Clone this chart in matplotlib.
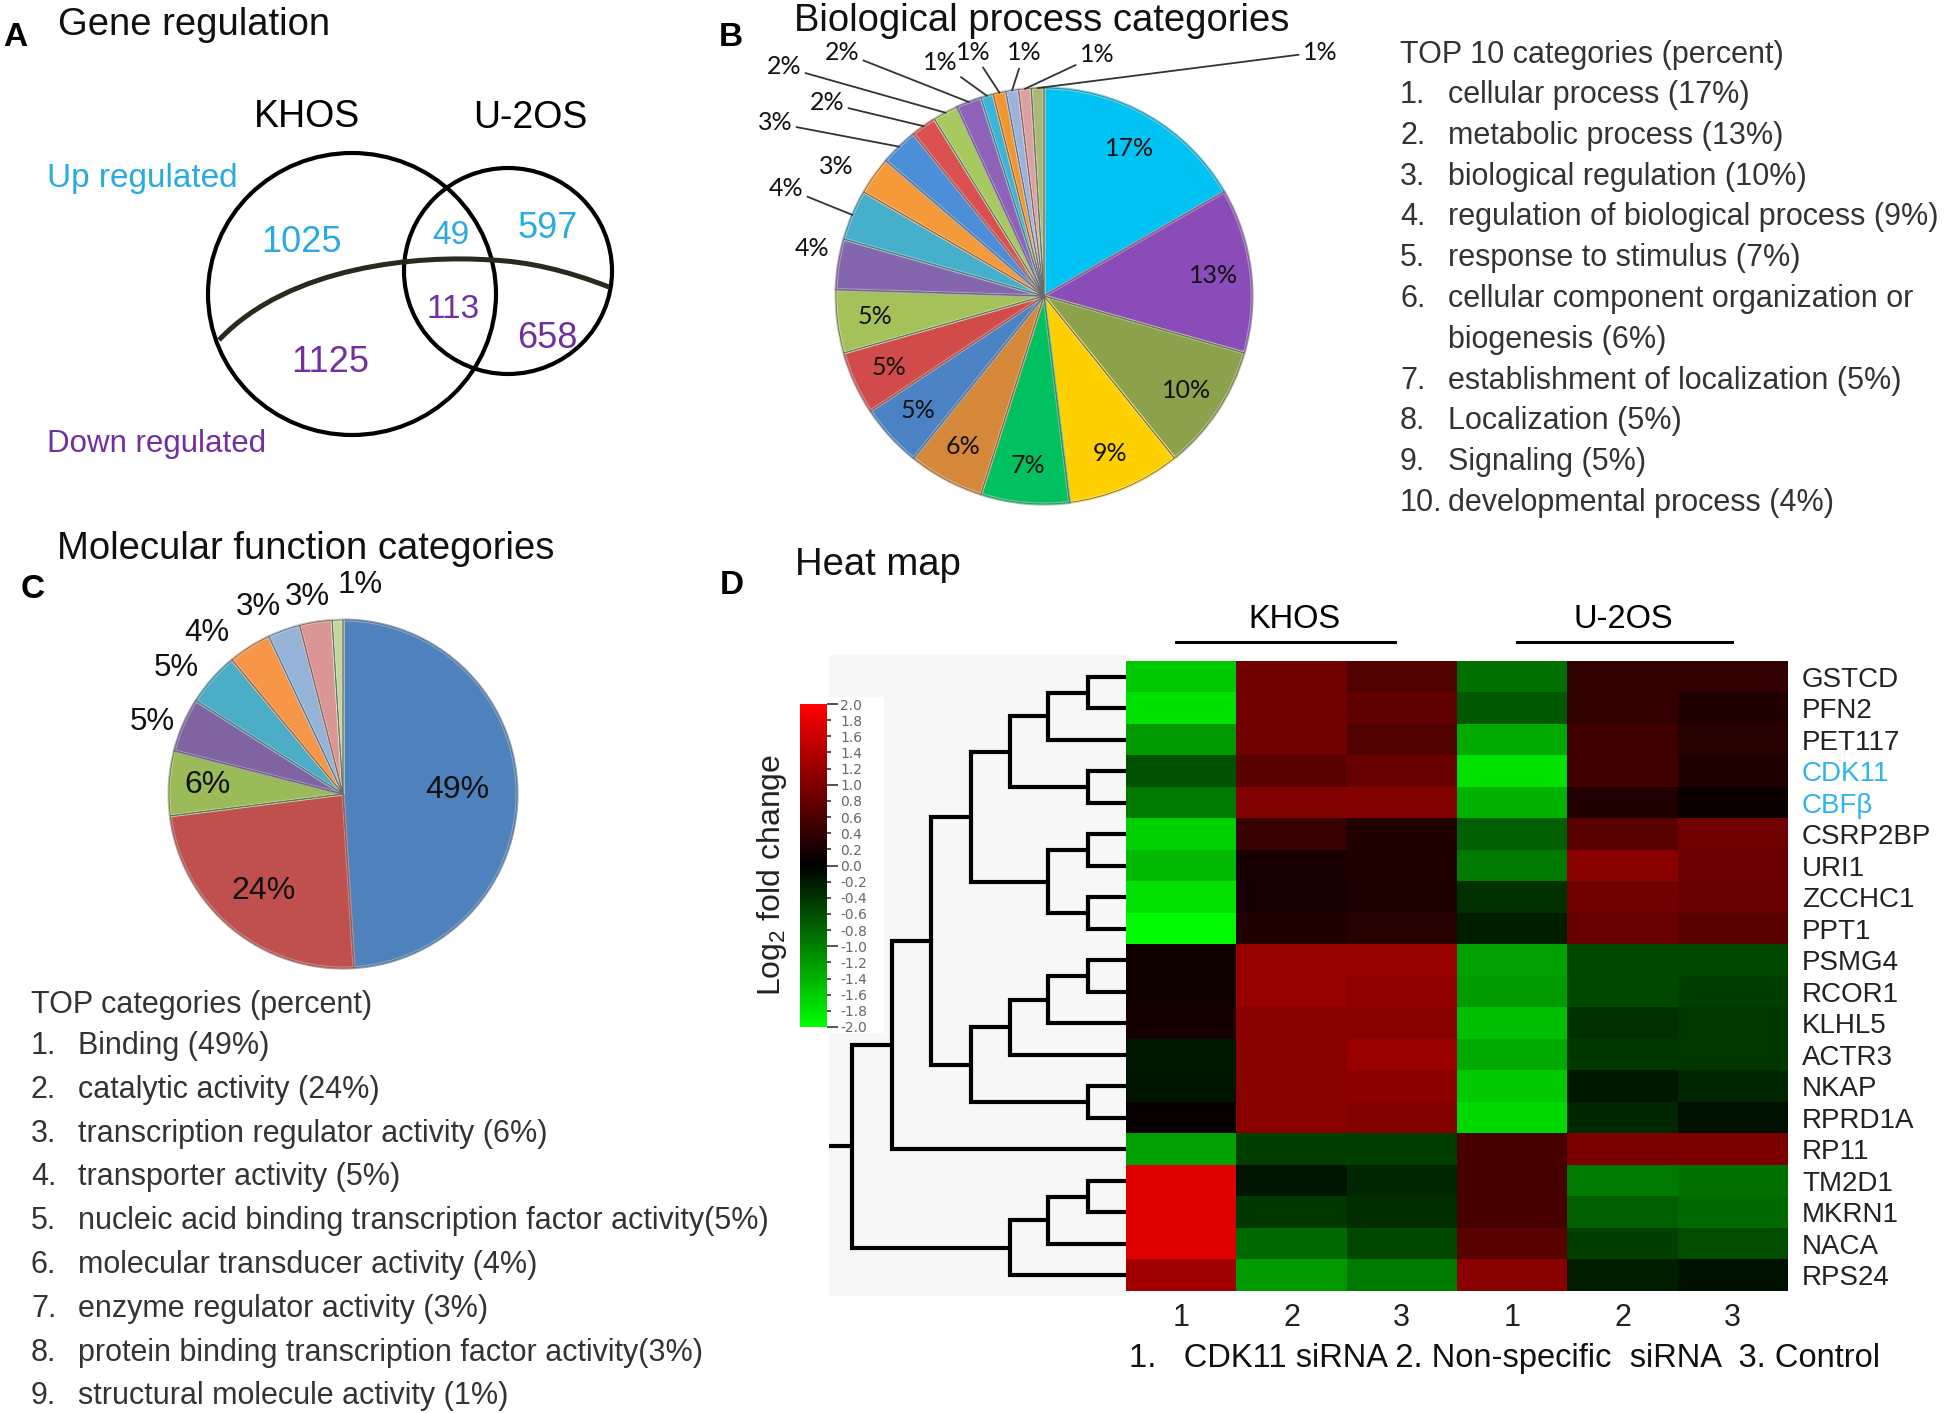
import textwrap
import numpy as np
import matplotlib
matplotlib.use('Agg')
import matplotlib.pyplot as plt
from matplotlib.patches import Ellipse, Rectangle, PathPatch
from matplotlib.path import Path
from matplotlib.colors import LinearSegmentedColormap, to_rgb
from matplotlib.ticker import FixedLocator, FormatStrFormatter

plt.rcParams['font.family'] = ['Liberation Sans', 'DejaVu Sans']
plt.rcParams['mathtext.fontset'] = 'custom'
plt.rcParams['mathtext.rm'] = 'Liberation Sans'

W, H = 1946, 1413

# ---------------- data ----------------
# A: Venn counts (KHOS only, both, U-2OS only)
venn_sets = ['KHOS', 'U-2OS']
up_counts = [1025, 49, 597]
down_counts = [1125, 113, 658]

# B: biological process categories (percent)
bp_pct = [17, 13, 10, 9, 7, 6, 5, 5, 5, 4, 4, 3, 3, 2, 2, 2, 1, 1, 1, 1, 1]
bp_colors = ['#00C3F3', '#8A4CB8', '#8CA14B', '#FFD000', '#00C060', '#D6883A',
             '#4A82C4', '#D24B4B', '#A5C25A', '#8466AE', '#45AECB', '#F59A3A',
             '#4D8ED8', '#DA5050', '#A8C860', '#8D62B8', '#3AB5D8', '#F3962E',
             '#9BB3DA', '#DDA0A0', '#AAB878']
bp_top = ['cellular process', 'metabolic process', 'biological regulation',
          'regulation of biological process', 'response to stimulus',
          'cellular component organization or biogenesis',
          'establishment of localization', 'Localization', 'Signaling',
          'developmental process']

# C: molecular function categories (percent)
mf_pct = [49, 24, 6, 5, 5, 4, 3, 3, 1]
mf_colors = ['#4F81BD', '#C0504D', '#9BBB59', '#8064A2', '#4BACC6', '#F79646',
             '#95B3D7', '#D99694', '#C3D69B']
mf_names = ['Binding ', 'catalytic activity ', 'transcription regulator activity ',
            'transporter activity ',
            'nucleic acid binding transcription factor activity',
            'molecular transducer activity ', 'enzyme regulator activity ',
            'protein binding transcription factor activity',
            'structural molecule activity ']

# D: heat map (log2 fold change)
genes = ['GSTCD', 'PFN2', 'PET117', 'CDK11', 'CBF\u03b2', 'CSRP2BP', 'URI1',
         'ZCCHC1', 'PPT1', 'PSMG4', 'RCOR1', 'KLHL5', 'ACTR3', 'NKAP', 'RPRD1A',
         'RP11', 'TM2D1', 'MKRN1', 'NACA', 'RPS24']
highlight = ['CDK11', 'CBF\u03b2']
cond_labels = ['1', '2', '3', '1', '2', '3']
log2fc = np.array([
    [-1.57, 0.88, 0.63, -0.88, 0.38, 0.38],
    [-1.76, 0.88, 0.75, -0.69, 0.38, 0.25],
    [-1.20, 0.88, 0.63, -1.32, 0.50, 0.31],
    [-0.63, 0.69, 0.82, -1.76, 0.50, 0.25],
    [-0.94, 1.00, 1.00, -1.38, 0.25, 0.08],
    [-1.63, 0.44, 0.25, -0.75, 0.69, 0.88],
    [-1.44, 0.19, 0.25, -0.94, 1.07, 0.83],
    [-1.76, 0.19, 0.22, -0.38, 0.88, 0.82],
    [-1.95, 0.25, 0.31, -0.25, 0.82, 0.69],
    [0.13, 1.19, 1.19, -1.26, -0.56, -0.56],
    [0.13, 1.19, 1.13, -1.20, -0.56, -0.50],
    [0.19, 1.07, 1.07, -1.50, -0.38, -0.44],
    [-0.19, 1.07, 1.21, -1.32, -0.44, -0.44],
    [-0.16, 1.07, 1.10, -1.57, -0.19, -0.31],
    [0.06, 1.07, 1.00, -1.69, -0.31, -0.13],
    [-1.26, -0.50, -0.50, 0.56, 0.98, 0.98],
    [1.76, -0.16, -0.31, 0.56, -0.94, -0.88],
    [1.76, -0.44, -0.35, 0.56, -0.75, -0.82],
    [1.76, -0.82, -0.56, 0.69, -0.50, -0.60],
    [1.26, -1.20, -0.94, 1.07, -0.22, -0.13],
])
# row dendrogram, scipy-like: (child a, child b, height); new ids start at 20
linkage = [(0, 1, 38), (20, 2, 78), (3, 4, 38), (21, 22, 116), (5, 6, 38),
           (7, 8, 38), (24, 25, 78), (23, 26, 154), (9, 10, 38), (28, 11, 78),
           (29, 12, 116), (13, 14, 38), (30, 31, 154), (27, 32, 194),
           (33, 15, 233), (16, 17, 38), (35, 18, 78), (36, 19, 116),
           (34, 37, 273)]
caption = '1.   CDK11 siRNA 2. Non-specific  siRNA  3. Control'

UP = '#29ABE2'
DOWN = '#7030A0'
TXT = '#333333'

fig = plt.figure(figsize=(W / 100, H / 100), dpi=100)
bg = fig.add_axes([0, 0, 1, 1])
bg.set_xlim(0, W)
bg.set_ylim(H, 0)
bg.axis('off')


def px_axes(x0, y0, x1, y1):
    return fig.add_axes([x0 / W, 1 - y1 / H, (x1 - x0) / W, (y1 - y0) / H])


def lighten(c, f):
    r, g, b = to_rgb(c)
    return (r + (1 - r) * f, g + (1 - g) * f, b + (1 - b) * f)


# ---------------- A: Venn ----------------
bg.text(15, 37, 'A', fontsize=24, fontweight='bold', ha='center', va='center')
bg.text(58, 25, 'Gene regulation', fontsize=27.5, va='center', color='#111')
bg.text(307, 117, venn_sets[0], fontsize=27, ha='center', va='center')
bg.text(530, 118, venn_sets[1], fontsize=27, ha='center', va='center')
bg.add_patch(Ellipse((352, 294), 288, 282, fill=False, lw=3, ec='black'))
bg.add_patch(Ellipse((508, 271), 208, 206, fill=False, lw=3, ec='black'))
curve = Path([(219, 340), (290, 265), (420, 255), (491, 260), (545, 262), (609, 287)],
             [Path.MOVETO, Path.CURVE4, Path.CURVE4, Path.CURVE4, Path.CURVE3, Path.CURVE3])
bg.add_patch(PathPatch(curve, fill=False, lw=3.6, ec='#2a2a1c'))
bg.text(47, 179, 'Up regulated', color=UP, fontsize=24, va='center')
bg.text(47, 444, 'Down regulated', color=DOWN, fontsize=22.5, va='center')
up_pos = [(301, 243), (451, 236), (548, 228)]
down_pos = [(330, 363), (453, 310), (547, 338)]
for (x, y), n in zip(up_pos, up_counts):
    bg.text(x, y, str(n), color=UP, fontsize=26 if n > 100 else 24, ha='center', va='center')
for (x, y), n in zip(down_pos, down_counts):
    bg.text(x, y, str(n), color=DOWN, fontsize=26 if n != 113 else 24, ha='center', va='center')

# ---------------- B: pie ----------------
bg.text(731, 38, 'B', fontsize=24, fontweight='bold', ha='center', va='center')
bg.text(794, 21, 'Biological process categories', fontsize=27.5, va='center', color='#111')
bcx, bcy, br = 1044, 296, 208
axb = px_axes(bcx - br, bcy - br, bcx + br, bcy + br)
wb, _ = axb.pie(bp_pct, colors=bp_colors, startangle=90, counterclock=False,
                wedgeprops=dict(linewidth=2.2))
for w, c in zip(wb, bp_colors):
    w.set_edgecolor(lighten(c, 0.35))
axb.pie(bp_pct, colors=['none'] * len(bp_pct), startangle=90, counterclock=False,
        wedgeprops=dict(linewidth=0.6, edgecolor='#6a6a6a'))
axb.set_xlim(-1, 1)
axb.set_ylim(-1, 1)
axb.axis('off')
pie_font = ['Lato', 'DejaVu Sans']
for w, p in zip(wb[:9], bp_pct[:9]):
    a = np.deg2rad((w.theta1 + w.theta2) / 2)
    axb.text(0.82 * np.cos(a), 0.82 * np.sin(a), f'{p}%', ha='center', va='center',
             fontsize=18, family=pie_font, color='#111')
# outside labels for the small slices (pixel layout) and whether a leader is drawn
small_pos = [(812, 248), (786, 188), (836, 166), (775, 123), (827, 103), (784, 67),
             (842, 52), (940, 62), (973, 52), (1024, 53), (1097, 55), (1320, 52)]
small_lead = [False, True, False, True, True, True, True, True, True, True, True, True]
for w, p, (px, py), lead in zip(wb[9:], bp_pct[9:], small_pos, small_lead):
    tx, ty = (px - bcx) / br, (bcy - py) / br
    if lead:
        a = np.deg2rad((w.theta1 + w.theta2) / 2)
        axb.annotate(f'{p}%', xy=(np.cos(a), np.sin(a)), xytext=(tx, ty),
                     ha='center', va='center', fontsize=18, family=pie_font, color='#111',
                     annotation_clip=False,
                     arrowprops=dict(arrowstyle='-', color='#333', lw=1.3,
                                     shrinkA=1, shrinkB=0))
    else:
        axb.text(tx, ty, f'{p}%', ha='center', va='center', fontsize=18,
                 family=pie_font, color='#111')

# B list
bg.text(1400, 55, 'TOP 10 categories (percent)', fontsize=22, va='center', color=TXT)
line = 0
for i, (name, p) in enumerate(zip(bp_top, bp_pct[:10])):
    rows = textwrap.wrap(f'{name} ({p}%)', 37)
    bg.text(1400, 95 + 40.8 * line, f'{i + 1}.', fontsize=22, va='center', color=TXT)
    for r in rows:
        bg.text(1448, 95 + 40.8 * line, r, fontsize=22, va='center', color=TXT)
        line += 1

# ---------------- C: pie ----------------
bg.text(33, 589, 'C', fontsize=24, fontweight='bold', ha='center', va='center')
bg.text(57, 549, 'Molecular function categories', fontsize=27.5, va='center', color='#111')
ccx, ccy, cr = 343, 794, 174
axc = px_axes(ccx - cr, ccy - cr, ccx + cr, ccy + cr)
wc, _ = axc.pie(mf_pct, colors=mf_colors, startangle=90, counterclock=False,
                wedgeprops=dict(linewidth=2.2))
for w, c in zip(wc, mf_colors):
    w.set_edgecolor(lighten(c, 0.3))
axc.pie(mf_pct, colors=['none'] * len(mf_pct), startangle=90, counterclock=False,
        wedgeprops=dict(linewidth=0.6, edgecolor='#6a6a6a'))
axc.set_xlim(-1, 1)
axc.set_ylim(-1, 1)
axc.axis('off')
inner_r = [0.66, 0.72, 0.78]
outer_pos = [(152, 722), (176, 668), (207, 633), (258, 607), (307, 597), (360, 585)]
for w, p, r in zip(wc[:3], mf_pct[:3], inner_r):
    a = np.deg2rad((w.theta1 + w.theta2) / 2)
    axc.text(r * np.cos(a), r * np.sin(a), f'{p}%', ha='center', va='center',
             fontsize=23, color='#111')
for p, (px, py) in zip(mf_pct[3:], outer_pos):
    axc.text((px - ccx) / cr, (ccy - py) / cr, f'{p}%', ha='center', va='center',
             fontsize=22.5, color='#111')

bg.text(31, 1005, 'TOP categories (percent)', fontsize=22, va='center', color=TXT)
for i, (name, p) in enumerate(zip(mf_names, mf_pct)):
    y = 1046 + 43.8 * i
    bg.text(31, y, f'{i + 1}.', fontsize=22, va='center', color=TXT)
    bg.text(78, y, f'{name}({p}%)', fontsize=22, va='center', color=TXT)

# ---------------- D: heat map ----------------
bg.text(732, 585, 'D', fontsize=24, fontweight='bold', ha='center', va='center')
bg.text(795, 565, 'Heat map', fontsize=27.5, va='center', color='#111')
bg.add_patch(Rectangle((829, 655), 1126 - 829, 1296 - 655, fc='#F7F7F7', ec='none'))
bg.add_patch(Rectangle((798, 697), 884 - 798, 1033 - 697, fc='white', ec='none'))
bg.text(1294, 619, venn_sets[0], fontsize=23.5, ha='center', va='center')
bg.text(1623, 619, venn_sets[1], fontsize=23.5, ha='center', va='center')
bg.plot([1176, 1395], [642, 642], color='black', lw=2.2)
bg.plot([1517, 1732], [642, 642], color='black', lw=2.2)
bg.text(1129, 1359, caption, fontsize=23.5, va='center', color='#111')
bg.text(772, 875, 'Log$_2$ fold change', fontsize=23, rotation=90, ha='center',
        va='center', color='#222')

cmap = LinearSegmentedColormap.from_list('gkr', ['#00FF00', '#000000', '#FF0000'])
axh = px_axes(1126, 661, 1788, 1291)
im = axh.imshow(log2fc, cmap=cmap, vmin=-2, vmax=2, aspect='auto',
                interpolation='nearest')
axh.set_xticks(range(len(cond_labels)))
axh.set_xticklabels(cond_labels, fontsize=22, color='#222')
axh.yaxis.tick_right()
axh.set_yticks(range(len(genes)))
axh.set_yticklabels(genes, fontsize=20, color='#222')
for lab in axh.get_yticklabels():
    if lab.get_text() in highlight:
        lab.set_color('#30B4F0')
axh.tick_params(axis='x', length=0, pad=9)
axh.tick_params(axis='y', length=0, pad=10)
for s in axh.spines.values():
    s.set_visible(False)

# dendrogram
axd = px_axes(829, 661, 1126, 1291)
axd.set_xlim(296, 0)
axd.set_ylim(len(genes) - 0.5, -0.5)
axd.axis('off')
ypos = {i: float(i) for i in range(len(genes))}
hgt = {i: 0.0 for i in range(len(genes))}
for k, (a, b, h) in enumerate(linkage):
    nid = len(genes) + k
    axd.plot([hgt[a], h, h, hgt[b]], [ypos[a], ypos[a], ypos[b], ypos[b]],
             color='black', lw=3, solid_joinstyle='miter', solid_capstyle='butt',
             clip_on=False)
    ypos[nid] = (ypos[a] + ypos[b]) / 2
    hgt[nid] = h
root = len(genes) + len(linkage) - 1
axd.plot([hgt[root], 296], [ypos[root], ypos[root]], color='black', lw=3,
         solid_capstyle='butt', clip_on=False)

# colour bar
cax = px_axes(800, 704, 827, 1027)
cb = fig.colorbar(im, cax=cax)
cb.outline.set_visible(False)
major = [-2.0, -1.0, 0.0, 1.0, 2.0]
minor = [round(v, 1) for v in np.arange(-2.0, 2.01, 0.2) if round(v, 1) not in major]
cax.yaxis.set_major_locator(FixedLocator(major))
cax.yaxis.set_minor_locator(FixedLocator(minor))
cax.yaxis.set_major_formatter(FormatStrFormatter('%.1f'))
cax.yaxis.set_minor_formatter(FormatStrFormatter('%.1f'))
cax.tick_params(which='major', length=8, width=1.2, pad=1.5, labelsize=10,
                colors='#333', labelcolor='#666')
cax.tick_params(which='minor', length=3, width=1.2, pad=6.5, labelsize=10,
                colors='#333', labelcolor='#666')
for lab in cax.get_yticklabels(which='both'):
    lab.set_family(['DejaVu Sans'])

fig.savefig('out.png', dpi=100, facecolor='white')
